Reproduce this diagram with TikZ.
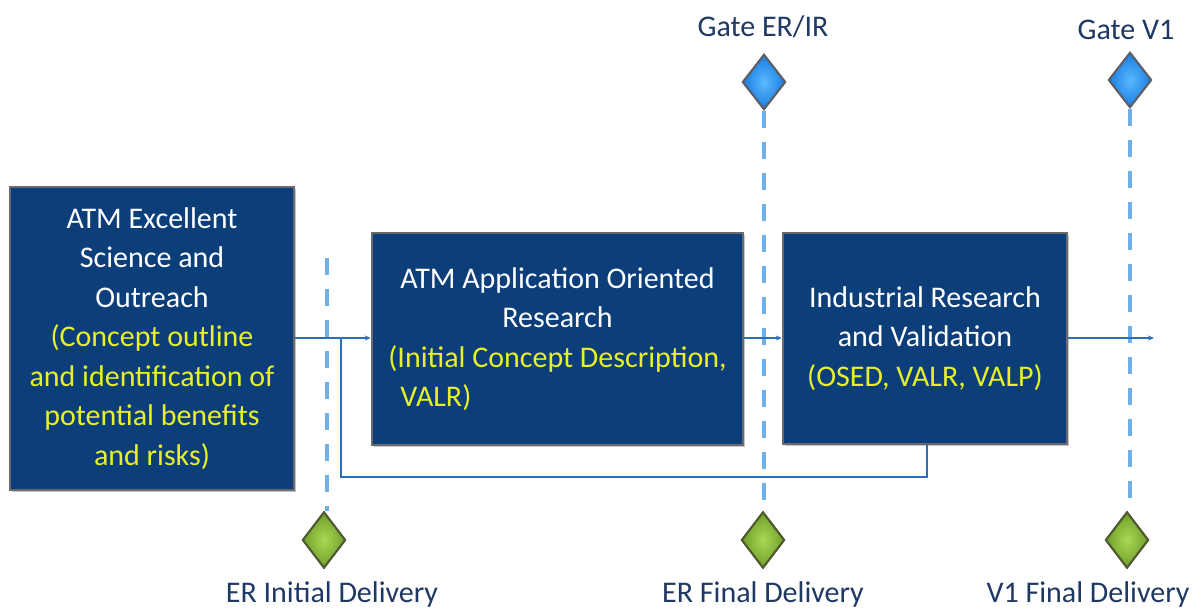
\documentclass[tikz,border=0pt]{standalone}
\usepackage{fontspec}
\setmainfont{Carlito}
\usetikzlibrary{shapes.geometric,shadows,arrows.meta}
\definecolor{boxblue}{RGB}{12,62,122}
\definecolor{boxedge}{RGB}{105,105,110}
\definecolor{txtyellow}{RGB}{232,240,40}
\definecolor{linkblue}{RGB}{46,110,184}
\definecolor{dashblue}{RGB}{110,176,232}
\definecolor{labnavy}{RGB}{31,56,100}
\definecolor{gatein}{RGB}{90,185,255}
\definecolor{gateout}{RGB}{25,125,225}
\definecolor{gateedge}{RGB}{90,95,105}
\definecolor{milin}{RGB}{170,215,85}
\definecolor{milout}{RGB}{110,160,40}
\definecolor{miledge}{RGB}{80,90,50}
\tikzset{
  phasebox/.style={draw=boxedge, line width=2.5pt, fill=boxblue, text=white,
    align=center, inner sep=0pt,
    font=\fontsize{30}{39.5}\selectfont,
    drop shadow={opacity=0.45, shadow xshift=2pt, shadow yshift=-2pt}},
  gatediamond/.style={diamond, draw=gateedge, line width=2pt, inner color=gatein, outer color=gateout,
    minimum width=43pt, minimum height=55pt, inner sep=0pt},
  milediamond/.style={diamond, draw=miledge, line width=2pt, inner color=milin, outer color=milout,
    minimum width=43pt, minimum height=56pt, inner sep=0pt},
  flow/.style={draw=linkblue, line width=1.6pt},
  flowarrow/.style={flow, -{Stealth[length=6pt,width=5pt]}},
  gateline/.style={draw=dashblue, line width=3.5pt, dash pattern=on 17pt off 14pt},
  lab/.style={text=labnavy, font=\fontsize{30}{34}\selectfont, inner sep=0pt}
}
\begin{document}
\begin{tikzpicture}[x=1pt,y=-1pt]
\useasboundingbox[fill=white] (0,0) rectangle (1198,610);

% diamonds and dashed gate lines (behind)
\node[gatediamond] (g1) at (764,82) {};
\node[gatediamond] (g2) at (1130,80) {};
\node[milediamond] (m0) at (324,540) {};
\node[milediamond] (m1) at (763,540) {};
\node[milediamond] (m2) at (1127,540) {};
\coordinate (d0) at (327,258);
\draw[gateline] (d0) -- (d0 |- m0.north);
\draw[gateline] (g1.south) -- (g1.south |- m1.north);
\draw[gateline] (g2.south) -- (g2.south |- m2.north);
% redraw diamonds on top
\node[gatediamond] at (g1) {};
\node[gatediamond] at (g2) {};
\node[milediamond] at (m0) {};
\node[milediamond] at (m1) {};
\node[milediamond] at (m2) {};

% boxes
\node[phasebox, minimum width=284pt, minimum height=303pt] (b1) at (152,338.5)
  {ATM Excellent\\Science and\\Outreach\\
   \color{txtyellow}(Concept outline\\\color{txtyellow}and identification of\\\color{txtyellow}potential benefits\\\color{txtyellow}and risks)};
\node[phasebox, minimum width=371pt, minimum height=212pt] (b2) at (557.5,339)
  {ATM Application Oriented\\Research\\
   \color{txtyellow}(Initial Concept Description,\\
   \color{txtyellow}\rlap{\hspace{0.4em}VALR)}\hphantom{(Initial Concept Description,}};
\node[phasebox, minimum width=284pt, minimum height=211pt] (b3) at (925,338.5)
  {Industrial Research\\and Validation\\\color{txtyellow}(OSED, VALR, VALP)};

% flow connectors
\coordinate (j) at (341,338);
\coordinate (out) at (1154,338);
\draw[flowarrow] (b1.east |- j) -- (b2.west |- j);
\draw[flowarrow] (b2.east |- j) -- (b3.west |- j);
\draw[flowarrow] (b3.east |- j) -- (out);
\draw[flow] (b3.south -| 927,0) -- (927,477) -- (341,477) -- (j);

% labels
\node[lab] (lg1) at (763,27) {Gate ER/IR};
\node[lab] (lg2) at (1126,30) {Gate V1};
\node[lab] (lm0) at (332,594) {ER Initial Delivery};
\node[lab] (lm1) at (763,594) {ER Final Delivery};
\node[lab] (lm2) at (1088,594) {V1 Final Delivery};
\end{tikzpicture}
\end{document}
